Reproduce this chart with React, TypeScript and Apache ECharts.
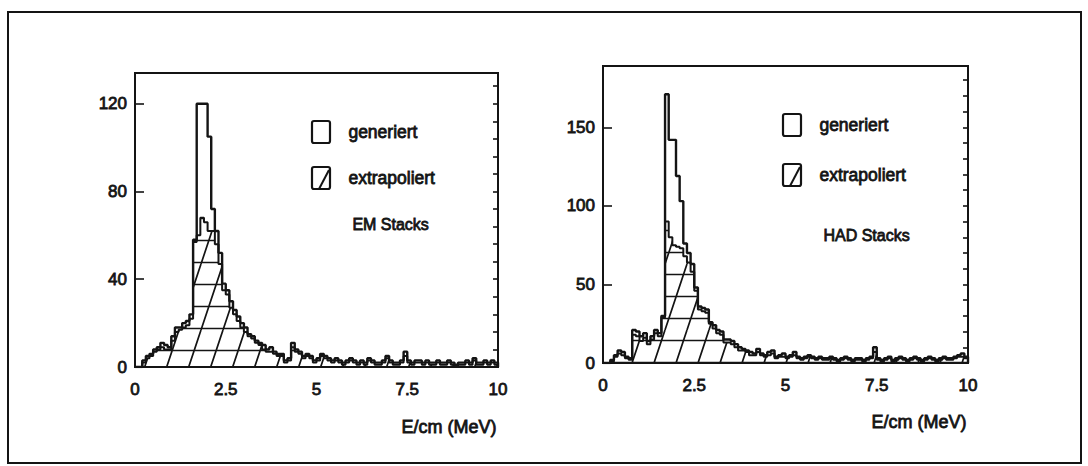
import React, { useEffect, useRef } from "react";
import * as echarts from "echarts";

// Histogram bins: 100 bins of 0.1 MeV between 0 and 10 MeV/cm
const BIN_WIDTH = 0.1;
const X_MIN = 0;
const X_MAX = 10;
const X_INTERVAL = 2.5;

const EM_Y_MAX = 134;
const EM_Y_INTERVAL = 40;
const EM_Y_MINOR = 8;

const HAD_Y_MAX = 189;
const HAD_Y_INTERVAL = 50;
const HAD_Y_MINOR = 10;

// EM stacks
const emGeneriert = [
  0, 0, 3, 5, 6, 8, 9, 11, 10, 9,
  14, 18, 18, 20, 21, 24, 58, 120, 120, 120,
  105, 72, 62, 52, 38, 35, 30, 26, 23, 20,
  18, 15, 14, 12, 11, 10, 8, 9, 7, 6,
  6, 3, 4, 11, 8, 7, 5, 6, 5, 3,
  4, 6, 5, 4, 3, 4, 3, 2, 3, 4,
  3, 2, 3, 2, 4, 3, 2, 2, 3, 5,
  3, 2, 2, 3, 7, 3, 2, 3, 3, 2,
  3, 2, 2, 3, 2, 2, 3, 2, 1, 2,
  2, 3, 2, 4, 2, 2, 3, 2, 3, 2,
];
const emExtrapoliert = [
  0, 0, 2, 4, 5, 7, 8, 9, 8, 8,
  12, 16, 17, 18, 19, 22, 57, 60, 68, 66,
  62, 62, 56, 47, 35, 33, 27, 24, 21, 18,
  16, 14, 13, 11, 10, 8, 7, 7, 6, 5,
  5, 2, 3, 9, 7, 6, 4, 5, 4, 2,
  3, 5, 4, 3, 2, 3, 2, 1, 2, 3,
  2, 1, 2, 1, 3, 2, 1, 1, 2, 4,
  2, 1, 1, 2, 5, 2, 1, 2, 2, 1,
  2, 1, 1, 2, 1, 1, 2, 1, 0, 1,
  1, 2, 1, 3, 1, 1, 2, 1, 2, 1,
];

// HAD stacks
const hadGeneriert = [
  0, 0, 2, 5, 8, 7, 4, 3, 21, 20,
  17, 19, 14, 17, 21, 19, 30, 171, 142, 142,
  119, 103, 76, 70, 63, 48, 36, 35, 34, 26,
  24, 21, 20, 15, 15, 14, 12, 10, 9, 8,
  7, 6, 9, 6, 5, 7, 8, 4, 5, 6,
  4, 5, 7, 4, 3, 4, 5, 4, 3, 4,
  3, 3, 4, 3, 2, 3, 4, 3, 2, 3,
  3, 2, 3, 4, 10, 3, 2, 3, 4, 2,
  3, 4, 3, 2, 3, 4, 3, 2, 3, 4,
  3, 2, 3, 4, 3, 3, 4, 5, 6, 4,
];
const hadExtrapoliert = [
  0, 0, 1, 4, 6, 5, 3, 2, 18, 17,
  14, 16, 12, 15, 19, 17, 29, 90, 80, 75,
  74, 73, 68, 64, 58, 46, 34, 33, 32, 25,
  22, 19, 18, 13, 13, 12, 10, 8, 8, 7,
  5, 5, 7, 5, 4, 5, 6, 3, 4, 4,
  3, 4, 5, 3, 2, 3, 4, 3, 2, 3,
  2, 2, 3, 2, 1, 2, 3, 2, 1, 2,
  2, 1, 2, 3, 7, 2, 1, 2, 3, 1,
  2, 3, 2, 1, 2, 3, 2, 1, 2, 3,
  2, 1, 2, 3, 2, 2, 3, 4, 4, 3,
];

const INK = "#141414";
const FONT = "'Liberation Sans', Arial, sans-serif";
const TEXT_WEIGHT = { textBorderColor: INK, textBorderWidth: 0.8 };

// Turn bin contents into the corner points of a step outline
function stepPoints(values: number[]): number[][] {
  const pts: number[][] = [[X_MIN, 0]];
  values.forEach((v, i) => pts.push([+(X_MIN + i * BIN_WIDTH).toFixed(2), v]));
  pts.push([X_MAX, 0]);
  return pts;
}

// Parallelogram hatching tile: horizontal rules plus steep "/" strokes
function hatchTile(offY: number, offX: number): string {
  const w = 22;
  const h = 66;
  const c = document.createElement("canvas");
  c.width = w;
  c.height = h;
  const ctx = c.getContext("2d")!;
  ctx.strokeStyle = INK;
  ctx.lineWidth = 1.7;
  ctx.beginPath();
  for (let y = offY % 22; y < h; y += 22) {
    ctx.moveTo(0, y + 0.5);
    ctx.lineTo(w, y + 0.5);
  }
  for (let dx = offX - 2 * w; dx <= offX + w; dx += w) {
    ctx.moveTo(dx, h);
    ctx.lineTo(dx + w, 0);
  }
  ctx.stroke();
  return c.toDataURL();
}

function majorAxis(grid: number, max: number, interval: number) {
  return {
    type: "value",
    gridIndex: grid,
    min: 0,
    max,
    interval,
    splitLine: { show: false },
    axisLine: { show: true, lineStyle: { color: INK, width: 2 } },
    axisTick: { show: true, inside: true, length: 9, lineStyle: { color: INK, width: 1.6 } },
    axisLabel: {
      color: INK,
      fontFamily: FONT,
      fontSize: 17,
      margin: 8,
      showMaxLabel: false,
      ...TEXT_WEIGHT,
    },
  };
}

function minorAxis(grid: number, max: number, interval: number) {
  return {
    type: "value",
    gridIndex: grid,
    min: 0,
    max,
    interval,
    splitLine: { show: false },
    axisLine: { show: false },
    axisTick: { show: true, inside: true, length: 5, lineStyle: { color: INK, width: 1.6 } },
    axisLabel: { show: false },
  };
}

function xAxis(grid: number) {
  return {
    type: "value",
    gridIndex: grid,
    min: X_MIN,
    max: X_MAX,
    interval: X_INTERVAL,
    splitLine: { show: false },
    axisLine: { show: true, lineStyle: { color: INK, width: 2 } },
    axisTick: { show: false },
    axisLabel: {
      color: INK,
      fontFamily: FONT,
      fontSize: 17,
      margin: 14,
      formatter: (v: number) => String(v),
      ...TEXT_WEIGHT,
    },
  };
}

function histSeries(
  values: number[],
  xi: number,
  yi: number,
  hatch: string | null,
  width: number
) {
  const s: any = {
    type: "line",
    step: "end",
    xAxisIndex: xi,
    yAxisIndex: yi,
    data: stepPoints(values),
    symbol: "none",
    silent: true,
    lineStyle: { color: INK, width },
  };
  if (hatch) {
    s.areaStyle = {
      opacity: 1,
      color: { image: hatch, repeat: "repeat", imageWidth: 22, imageHeight: 66 },
    };
  }
  return s;
}

function label(text: string, x: number, yMid: number, size: number) {
  return {
    type: "text",
    left: x,
    top: yMid - size / 2 - 1,
    style: { text, fill: INK, font: `${size}px ${FONT}`, stroke: INK, lineWidth: 0.8 },
  };
}

function legendGraphics(x: number, yGen: number, yExt: number, yTitle: number, title: string) {
  return [
    {
      type: "rect",
      shape: { x, y: yGen - 11, width: 18, height: 22, r: 2 },
      style: { fill: "none", stroke: INK, lineWidth: 2.2 },
    },
    label("generiert", x + 36, yGen, 17.5),
    {
      type: "rect",
      shape: { x, y: yExt - 11, width: 18, height: 22, r: 2 },
      style: { fill: "none", stroke: INK, lineWidth: 2.2 },
    },
    {
      type: "line",
      shape: { x1: x + 7, y1: yExt + 11, x2: x + 17, y2: yExt - 8 },
      style: { stroke: INK, lineWidth: 2 },
    },
    label("extrapoliert", x + 36, yExt, 17.5),
    label(title, x + 40, yTitle, 16),
  ];
}

export default function App() {
  const ref = useRef<HTMLDivElement>(null);

  useEffect(() => {
    if (!ref.current) return;
    const chart = echarts.init(ref.current, undefined, { renderer: "svg" });
    const hatchEm = hatchTile(20, 3);
    const hatchHad = hatchTile(10, 5);

    chart.setOption({
      animation: false,
      backgroundColor: "#ffffff",
      grid: [
        { left: 135, top: 73, width: 363, height: 294, show: true, borderColor: INK, borderWidth: 2 },
        { left: 603, top: 66, width: 365, height: 297, show: true, borderColor: INK, borderWidth: 2 },
      ],
      xAxis: [xAxis(0), xAxis(1)],
      yAxis: [
        majorAxis(0, EM_Y_MAX, EM_Y_INTERVAL),
        minorAxis(0, EM_Y_MAX, EM_Y_MINOR),
        majorAxis(1, HAD_Y_MAX, HAD_Y_INTERVAL),
        minorAxis(1, HAD_Y_MAX, HAD_Y_MINOR),
      ],
      series: [
        histSeries(emExtrapoliert, 0, 0, hatchEm, 2),
        histSeries(emGeneriert, 0, 0, null, 2.4),
        histSeries(hadExtrapoliert, 1, 2, hatchHad, 2),
        histSeries(hadGeneriert, 1, 2, null, 2.4),
      ],
      graphic: [
        {
          type: "rect",
          shape: { x: 8, y: 12, width: 1073, height: 451 },
          style: { fill: "none", stroke: INK, lineWidth: 2 },
          silent: true,
        },
        ...legendGraphics(312, 132, 178, 225, "EM Stacks"),
        ...legendGraphics(783, 125, 175, 236, "HAD Stacks"),
        {
          type: "text",
          right: 1088 - 497,
          top: 418,
          style: { text: "E/cm (MeV)", fill: INK, font: `18px ${FONT}`, stroke: INK, lineWidth: 0.8 },
        },
        {
          type: "text",
          right: 1088 - 967,
          top: 413,
          style: { text: "E/cm (MeV)", fill: INK, font: `18px ${FONT}`, stroke: INK, lineWidth: 0.8 },
        },
      ],
    });
    return () => chart.dispose();
  }, []);

  return (
    <div
      ref={ref}
      style={{ position: "fixed", left: 0, top: 0, width: 1088, height: 466, background: "#fff" }}
    />
  );
}
